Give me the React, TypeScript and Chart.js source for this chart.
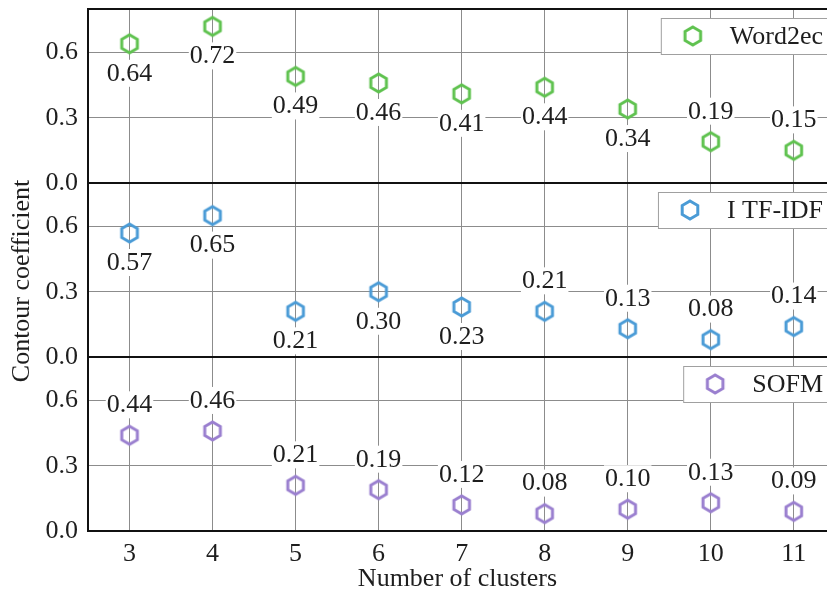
import React, { useEffect, useRef } from 'react';
import { Chart, registerables } from 'chart.js';

Chart.register(...registerables);

// ---- data ----
const clusters = [3, 4, 5, 6, 7, 8, 9, 10, 11];
const word2ecValues = [0.64, 0.72, 0.49, 0.46, 0.41, 0.44, 0.34, 0.19, 0.15];
const itfidfValues = [0.57, 0.65, 0.21, 0.30, 0.23, 0.21, 0.13, 0.08, 0.14];
const sofmValues = [0.44, 0.46, 0.21, 0.19, 0.12, 0.08, 0.10, 0.13, 0.09];
const seriesNames = ['Word2ec', 'I TF-IDF', 'SOFM'];
const yTickValues = [0, 0.3, 0.6];
const xTickValues = [3, 4, 5, 6, 7, 8, 9, 10, 11];
// which side of the marker each value label sits on
const word2ecLabelSide = ['below', 'below', 'below', 'below', 'below', 'below', 'below', 'above', 'above'];
const itfidfLabelSide = ['below', 'below', 'below', 'below', 'below', 'above', 'above', 'above', 'above'];
const sofmLabelSide = ['above', 'above', 'above', 'above', 'above', 'above', 'above', 'above', 'above'];

const FONT_FAMILY = '"Liberation Serif", "Times New Roman", serif';
const FONT_SIZE = 26;
const TEXT_COLOR = '#1e1e1e';
const GRID_COLOR = '#8c8c8c';
const AXIS_COLOR = '#111111';
const COLORS = ['#5fc24f', '#4a9bd6', '#9a7fcf'];

function makeHex(color: string): HTMLCanvasElement {
  const c = document.createElement('canvas');
  const s = 26;
  c.width = s;
  c.height = s;
  const g = c.getContext('2d')!;
  g.strokeStyle = color;
  g.lineWidth = 3;
  g.lineJoin = 'miter';
  g.beginPath();
  const R = 9;
  for (let k = 0; k < 6; k++) {
    const a = -Math.PI / 2 + (k * Math.PI) / 3;
    const px = s / 2 + R * Math.cos(a);
    const py = s / 2 + R * Math.sin(a);
    if (k === 0) g.moveTo(px, py);
    else g.lineTo(px, py);
  }
  g.closePath();
  g.stroke();
  return c;
}

export default function App() {
  const ref = useRef<HTMLCanvasElement | null>(null);

  useEffect(() => {
    document.body.style.margin = '0';
    document.body.style.overflow = 'hidden';
    const canvas = ref.current;
    if (!canvas) return;

    const hexes = COLORS.map(makeHex);
    const values = [word2ecValues, itfidfValues, sofmValues];
    const sides = [word2ecLabelSide, itfidfLabelSide, sofmLabelSide];
    const axisIds = ['yTop', 'yMid', 'yBot'];
    const font = { family: FONT_FAMILY, size: FONT_SIZE };

    const makeY = (id: string) => ({
      type: 'linear' as const,
      position: 'left' as const,
      stack: 'panels',
      stackWeight: 1,
      min: 0,
      max: 0.8,
      afterBuildTicks: (s: any) => {
        s.ticks = yTickValues.map((v) => ({ value: v }));
      },
      afterFit: (s: any) => {
        s.width = 88;
        s.paddingTop = 0;
        s.paddingBottom = 0;
        s.paddingLeft = 0;
        s.paddingRight = 0;
      },
      ticks: {
        font,
        color: TEXT_COLOR,
        padding: 10,
        callback: (v: any) => Number(v).toFixed(1),
      },
      grid: {
        drawTicks: false,
        color: (ctx: any) => (ctx.tick && ctx.tick.value === 0 ? AXIS_COLOR : GRID_COLOR),
        lineWidth: (ctx: any) => (ctx.tick && ctx.tick.value === 0 ? 2 : 1),
      },
      border: { display: true, color: AXIS_COLOR, width: 2 },
    });

    const datasets = values.map((vals, di) => ({
      label: seriesNames[di],
      data: clusters.map((x, i) => ({ x, y: vals[i] })),
      yAxisID: axisIds[di],
      showLine: false,
      pointStyle: hexes[di] as any,
      pointRadius: 10,
      borderColor: COLORS[di],
      backgroundColor: COLORS[di],
    }));

    const panelPlugin = {
      id: 'panelDecor',
      afterDraw(chart: any) {
        const ctx = chart.ctx as CanvasRenderingContext2D;
        const area = chart.chartArea;
        ctx.save();
        // top frame line
        ctx.strokeStyle = AXIS_COLOR;
        ctx.lineWidth = 2;
        ctx.beginPath();
        ctx.moveTo(area.left - 1, area.top);
        ctx.lineTo(area.right, area.top);
        ctx.stroke();

        ctx.font = `${FONT_SIZE}px ${FONT_FAMILY}`;
        ctx.textBaseline = 'middle';

        // value labels
        values.forEach((vals, di) => {
          const meta = chart.getDatasetMeta(di);
          meta.data.forEach((pt: any, i: number) => {
            const txt = vals[i].toFixed(2);
            const w = ctx.measureText(txt).width;
            const cy = sides[di][i] === 'above' ? pt.y - 31 : pt.y + 29;
            ctx.fillStyle = '#ffffff';
            ctx.fillRect(pt.x - w / 2 - 1, cy - 13, w + 2, 27);
            ctx.fillStyle = TEXT_COLOR;
            ctx.textAlign = 'center';
            ctx.fillText(txt, pt.x, cy + 1);
          });
        });

        // per-panel legends
        axisIds.forEach((id, di) => {
          const sc = chart.scales[id];
          const txt = seriesNames[di];
          const w = ctx.measureText(txt).width;
          const textRight = area.right - 4;
          const textLeft = textRight - w;
          const boxLeft = textLeft - 69;
          const boxTop = sc.top + 9;
          const boxH = 36;
          ctx.fillStyle = '#ffffff';
          ctx.fillRect(boxLeft, boxTop, area.right + 60 - boxLeft, boxH);
          ctx.strokeStyle = '#a0a0a0';
          ctx.lineWidth = 1;
          ctx.strokeRect(boxLeft + 0.5, boxTop + 0.5, area.right + 60 - boxLeft, boxH);
          const hx = textLeft - 37;
          const hy = boxTop + boxH / 2;
          ctx.drawImage(hexes[di], hx - 13, hy - 13);
          ctx.fillStyle = TEXT_COLOR;
          ctx.textAlign = 'left';
          ctx.fillText(txt, textLeft, hy + 1);
        });

        // y axis title
        ctx.translate(22, 281);
        ctx.rotate(-Math.PI / 2);
        ctx.textAlign = 'center';
        ctx.fillStyle = TEXT_COLOR;
        ctx.fillText('Contour coefficient', 0, 0);
        ctx.restore();
      },
    };

    const chart = new Chart(canvas, {
      type: 'scatter',
      data: { datasets },
      plugins: [panelPlugin],
      options: {
        responsive: false,
        animation: false,
        devicePixelRatio: 1,
        layout: { autoPadding: false, padding: { top: 9, left: 0, right: 0, bottom: 0 } },
        plugins: {
          legend: { display: false },
          tooltip: { enabled: false },
        },
        scales: {
          x: {
            type: 'linear',
            position: 'bottom',
            min: 2.5,
            max: 11.4,
            afterBuildTicks: (s: any) => {
              s.ticks = xTickValues.map((v) => ({ value: v }));
            },
            afterFit: (s: any) => {
              s.height = 67;
              s.paddingLeft = 0;
              s.paddingRight = 0;
            },
            ticks: { font, color: TEXT_COLOR, padding: 8, callback: (v: any) => String(v) },
            grid: { drawTicks: false, color: GRID_COLOR, lineWidth: 1 },
            border: { display: false },
            title: {
              display: true,
              text: 'Number of clusters',
              font,
              color: TEXT_COLOR,
              padding: { top: 0, bottom: 3 },
            },
          },
          yBot: makeY('yBot'),
          yMid: makeY('yMid'),
          yTop: makeY('yTop'),
        } as any,
      },
    });

    return () => chart.destroy();
  }, []);

  return (
    <div style={{ width: 827, height: 598 }}>
      <canvas ref={ref} width={827} height={598} style={{ display: 'block', width: 827, height: 598 }} />
    </div>
  );
}
